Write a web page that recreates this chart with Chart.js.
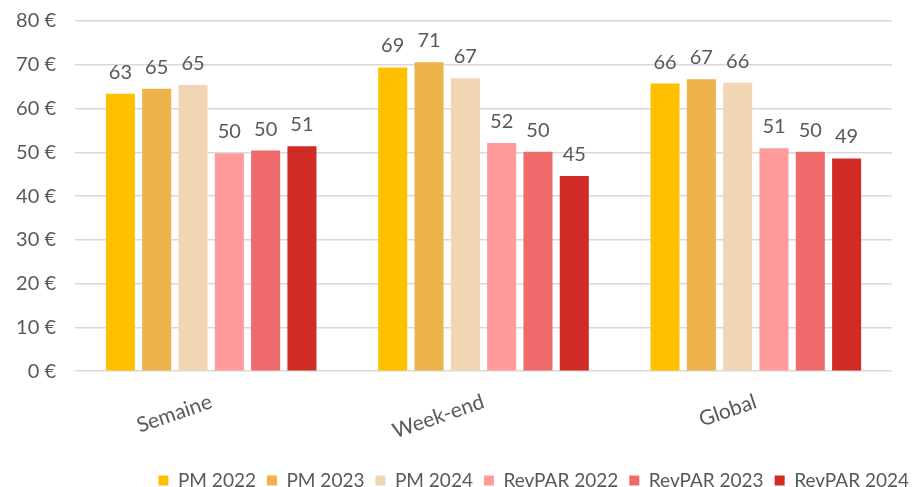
<!DOCTYPE html>
<html lang="fr">
<head>
<meta charset="UTF-8">
<script src="https://cdn.jsdelivr.net/npm/chart.js"></script>
<style>
  html, body { margin: 0; padding: 0; background: #fff; }
  #wrap { width: 920px; height: 487px; }
</style>
</head>
<body>
<div id="wrap"><canvas id="myChart"></canvas></div>
<script>
// periods on the x axis
const periods = ['Semaine', 'Week-end', 'Global']

// prix moyen and RevPAR per year (EUR)
const pm2022 = [63.4, 69.4, 65.7]
const pm2023 = [64.5, 70.6, 66.7]
const pm2024 = [65.4, 66.9, 65.9]
const revpar2022 = [49.8, 52.1, 50.9]
const revpar2023 = [50.4, 50.1, 50.1]
const revpar2024 = [51.4, 44.6, 48.6]

const seriesNames = ['PM 2022', 'PM 2023', 'PM 2024', 'RevPAR 2022', 'RevPAR 2023', 'RevPAR 2024']
const seriesColors = ['#FFC000', '#EBB349', '#F1D6B3', '#FF9B9B', '#EE6A6B', '#D12B25']

const yMax = 80
const yStep = 10

const textColor = '#595959'
const fontFamily = 'Lato, "Noto Sans", sans-serif'

// writes the rounded value above every bar
const valueLabels = {
  id: 'valueLabels',
  afterDatasetsDraw(chart) {
    const ctx = chart.ctx
    ctx.save()
    ctx.fillStyle = textColor
    ctx.font = '20px ' + fontFamily
    ctx.textAlign = 'center'
    ctx.textBaseline = 'alphabetic'
    chart.data.datasets.forEach((ds, i) => {
      chart.getDatasetMeta(i).data.forEach((bar, j) => {
        ctx.fillText(Math.round(ds.data[j]), bar.x, bar.y - 15)
      })
    })
    ctx.restore()
  }
}

const allSeries = [pm2022, pm2023, pm2024, revpar2022, revpar2023, revpar2024]

new Chart(document.getElementById('myChart'), {
  type: 'bar',
  data: {
    labels: periods,
    datasets: allSeries.map((values, i) => ({
      label: seriesNames[i],
      data: values,
      backgroundColor: seriesColors[i],
      categoryPercentage: 0.8,
      barPercentage: 0.8
    }))
  },
  options: {
    responsive: true,
    maintainAspectRatio: false,
    animation: false,
    layout: { padding: { left: 0, right: 0, top: 0, bottom: -13 } },
    plugins: {
      tooltip: { enabled: false },
      legend: {
        position: 'bottom',
        align: 'end',
        labels: {
          color: textColor,
          font: { family: fontFamily, size: 19 },
          boxWidth: 10,
          boxHeight: 10,
          padding: 11
        }
      }
    },
    scales: {
      x: {
        grid: { display: false },
        border: { display: false },
        ticks: {
          color: textColor,
          font: { family: fontFamily, size: 21 },
          minRotation: 19,
          maxRotation: 19,
          padding: 10
        },
        afterFit: s => { s.height += 6 }
      },
      y: {
        min: 0,
        max: yMax,
        border: { display: false },
        grid: { color: '#D9D9D9', lineWidth: 1.5, drawTicks: false },
        ticks: {
          stepSize: yStep,
          color: textColor,
          font: { family: fontFamily, size: 20 },
          padding: 19,
          callback: v => v + ' €'
        },
        afterFit: s => {
          s.width = 75
          s.paddingTop = 21
          s.paddingBottom = 0
        }
      },
      // empty strip on the right so the legend can run past the plot
      spacer: {
        position: 'right',
        display: true,
        grid: { display: false },
        border: { display: false },
        ticks: { display: false },
        afterFit: s => { s.width = 28 }
      }
    }
  },
  plugins: [valueLabels]
})
</script>
</body>
</html>
